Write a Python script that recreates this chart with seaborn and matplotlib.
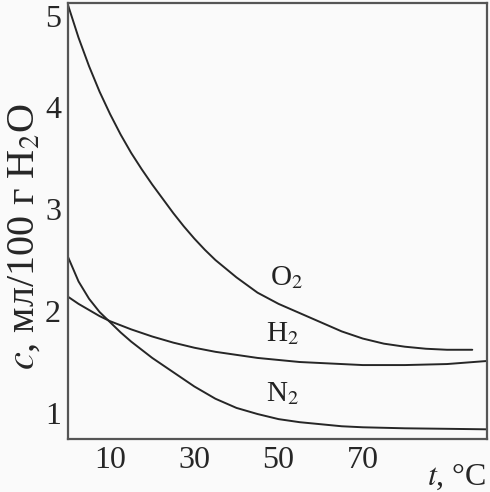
import numpy as np
import pandas as pd
import matplotlib
matplotlib.use("Agg")
import matplotlib.pyplot as plt
import seaborn as sns

# ---------------------------------------------------------------------------
# Data (t in degC, c in ml / 100 g H2O)
# ---------------------------------------------------------------------------
o2_t = [0, 2.5, 5, 7.5, 10, 12.5, 15, 17.5, 20, 22.5, 25, 27.5, 30, 32.5, 35,
        40, 45, 50, 55, 60, 65, 70, 75, 80, 85, 90, 96]
o2_c = [5.00, 4.68, 4.40, 4.15, 3.93, 3.73, 3.55, 3.39, 3.24, 3.10, 2.96, 2.83,
        2.71, 2.60, 2.50, 2.33, 2.18, 2.07, 1.98, 1.89, 1.80, 1.73, 1.68, 1.65,
        1.63, 1.62, 1.62]

h2_t = [0, 2.5, 5, 7.5, 10, 15, 20, 25, 30, 35, 40, 45, 50, 55, 60, 70, 80, 90, 99.5]
h2_c = [2.14, 2.07, 2.01, 1.95, 1.90, 1.82, 1.75, 1.69, 1.64, 1.60, 1.57, 1.54,
        1.52, 1.50, 1.49, 1.47, 1.47, 1.48, 1.51]

n2_t = [0, 2.5, 5, 7.5, 10, 12.5, 15, 20, 25, 30, 35, 40, 45, 50, 55, 60, 65, 70,
        80, 90, 99.5]
n2_c = [2.53, 2.29, 2.12, 1.99, 1.89, 1.79, 1.70, 1.54, 1.40, 1.26, 1.14, 1.05,
        0.99, 0.94, 0.91, 0.89, 0.87, 0.86, 0.85, 0.845, 0.84]

gases = ["O$_2$", "H$_2$", "N$_2$"]
x_ticks = [10, 30, 50, 70]
y_ticks = [1, 2, 3, 4, 5]

df = pd.concat([
    pd.DataFrame({"t": o2_t, "c": o2_c, "gas": gases[0]}),
    pd.DataFrame({"t": h2_t, "c": h2_c, "gas": gases[1]}),
    pd.DataFrame({"t": n2_t, "c": n2_c, "gas": gases[2]}),
])

# ---------------------------------------------------------------------------
# Figure
# ---------------------------------------------------------------------------
sns.set_style("white")
plt.rcParams["font.family"] = ["Liberation Serif", "DejaVu Serif"]
plt.rcParams["mathtext.fontset"] = "stix"

fig = plt.figure(figsize=(4.9, 4.92), dpi=100)
fig.patch.set_facecolor("#fafafa")
ax = fig.add_axes([0.1388, 0.1077, 0.8551, 0.8862])
ax.set_facecolor("#fafafa")

line_color = "#262626"
sns.lineplot(data=df, x="t", y="c", hue="gas", units="gas", estimator=None,
             palette=[line_color] * 3, linewidth=1.4, legend=False, ax=ax, sort=False)

ax.set_xlim(0, 99.5)
ax.set_ylim(0.745, 5.02)
ax.set_xticks(x_ticks)
ax.set_yticks(y_ticks)
ax.set_xticklabels([str(v) for v in x_ticks], fontsize=23)
ax.set_yticklabels([str(v) for v in y_ticks], fontsize=23)
ax.get_yticklabels()[-1].set_va("top")
ax.tick_params(direction="in", length=9, width=1.3, color="#444444", pad=5)
ax.set_xlabel("")
ax.set_ylabel("$c$, мл/100 г H$_2$O", fontsize=29)
ax.yaxis.set_label_coords(-0.06, 0.465)
for sp in ax.spines.values():
    sp.set_visible(True)
    sp.set_color("#555555")
    sp.set_linewidth(1.6)

# curve labels
label_pos = {gases[0]: (52, 2.33), gases[1]: (51, 1.78), gases[2]: (51, 1.19)}
for g in gases:
    ax.text(*label_pos[g], g, fontsize=21, ha="center", va="center", color="#222222")

fig.text(0.993, 0.0, "$t$, °C", fontsize=23, ha="right", va="bottom")

fig.savefig("out.png", dpi=100, facecolor=fig.get_facecolor())
plt.close(fig)
